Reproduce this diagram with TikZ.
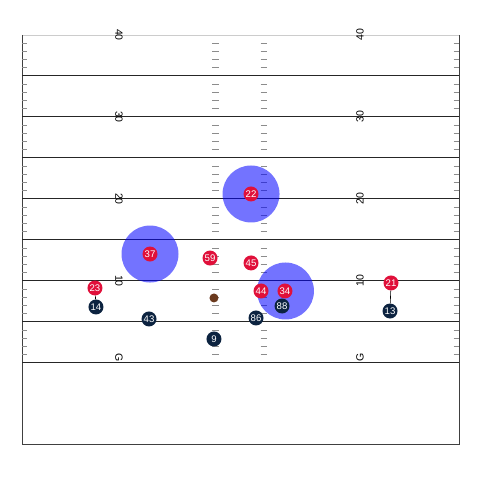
\documentclass[tikz,border=0pt]{standalone}
\usepackage{fontspec}
\setmainfont{Liberation Sans}
\definecolor{homered}{HTML}{E0103A}
\definecolor{awaynavy}{HTML}{0C2340}
\definecolor{ballbrown}{HTML}{6B3A1E}

\begin{document}
\begin{tikzpicture}[x=8.2pt,y=8.2pt,
  home/.style={circle, fill=homered, text=white, inner sep=0pt, minimum size=15pt, font=\fontsize{9.6}{9.6}\selectfont},
  away/.style={home, fill=awaynavy},
  zone/.style={circle, fill=blue, fill opacity=0.55, inner sep=0pt, minimum size=57pt},
  football/.style={circle, fill=ballbrown, inner sep=0pt, minimum size=9pt},
  yardline/.style={black!85, line width=1pt},
  hashmark/.style={black!45, line width=0.7pt},
  yardnum/.style={font=\fontsize{10.5}{10.5}\selectfont, inner sep=0pt}]
\useasboundingbox (-2.683,-14.268) rectangle (55.854,44.268);
% field outline
\draw[black!20, line width=0.7pt] (0,40) -- (53.3,40);
\draw[black!75, line width=1pt] (0,40) -- (0,-10) -- (53.3,-10) -- (53.3,40);
\foreach \y in {0,5,...,35}
  \draw[yardline] (0,\y) -- (53.3,\y);
% sideline ticks and hashes
\foreach \b in {0,5,...,35} {
  \foreach \k in {1,2,3,4} {
    \draw[hashmark] (0,\b+\k) -- (0.67,\b+\k);
    \draw[hashmark] (52.63,\b+\k) -- (53.3,\b+\k);
    \draw[hashmark] (23.2,\b+\k) -- (24.0,\b+\k);
    \draw[hashmark] (29.1,\b+\k) -- (29.9,\b+\k);
  }
}
% yard numbers
\foreach \y/\t in {10/10,20/20,30/30,40/40,0.7/G} {
  \node[yardnum, rotate=-90] at (11.83,\y) {\t};
  \node[yardnum, rotate=90] at (41.22,\y) {\t};
}
% zones
\node[zone] (z22) at (27.93,20.61) {};
\node[zone] (z37) at (15.61,13.29) {};
\node[zone] (z34) at (32.13,8.78) {};
% players
\node[home] (p22) at (27.93,20.61) {22};
\node[home] (p37) at (15.61,13.29) {37};
\node[home] (p59) at (22.93,12.80) {59};
\node[home] (p45) at (27.93,12.20) {45};
\node[home] (p44) at (29.15,8.78) {44};
\node[home] (p34) at (32.07,8.78) {34};
\node[home] (p21) at (45.00,9.76) {21};
\node[home] (p23) at (8.90,9.15) {23};
\node[away] (p88) at (31.71,6.95) {88};
\node[away] (p86) at (28.54,5.49) {86};
\node[away] (p13) at (44.88,6.34) {13};
\node[away] (p14) at (9.02,6.83) {14};
\node[away] (p43) at (15.49,5.37) {43};
\node[away] (p9) at (23.41,2.93) {9};
\node[football] (ball) at (23.41,7.93) {};
% matchups
\draw[black, line width=0.6pt] (p21) -- (p13);
\draw[black, line width=0.6pt] (p23) -- (p14);
\end{tikzpicture}
\end{document}
